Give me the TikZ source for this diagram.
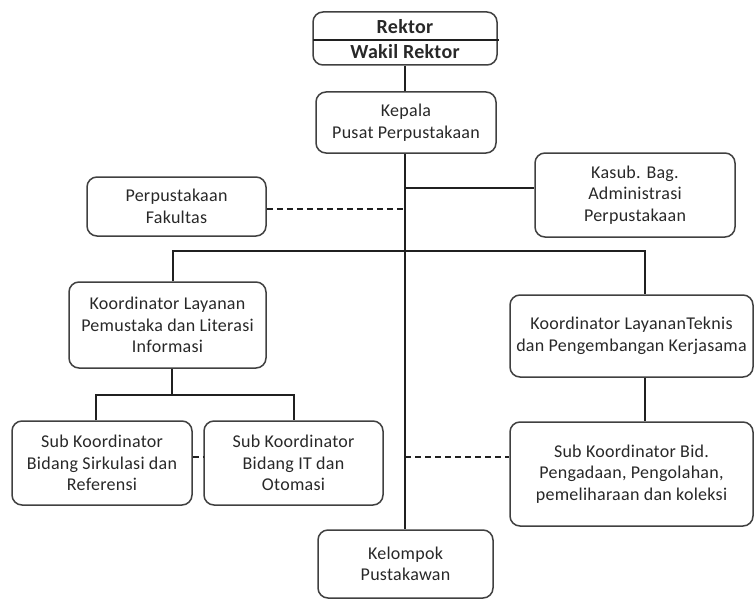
\documentclass[tikz,border=0pt]{standalone}
\usepackage{fontspec}
\setmainfont{Carlito}[LetterSpace=1.5]
\definecolor{boxc}{HTML}{404040}
\definecolor{txtc}{HTML}{282828}
\definecolor{linec}{HTML}{202020}
\tikzset{
  orgbox/.style={draw=boxc, line width=1.5pt, rounded corners=10pt, align=center, inner sep=0pt,
    text=txtc, font=\fontsize{18}{21.5}\selectfont},
  conn/.style={draw=linec, line width=1.3pt},
  dconn/.style={draw=linec, line width=1.3pt, dash pattern=on 6pt off 4pt},
  headtxt/.style={inner sep=0pt, text=txtc, font=\bfseries\fontsize{20}{22}\selectfont}
}
\begin{document}
\begin{tikzpicture}[x=1pt,y=-1pt]
\useasboundingbox (0,0) rectangle (754,599);
% Rektor box
\node[orgbox, minimum width=184pt, minimum height=53pt] (rektor) at (405,38.5) {};
\node[headtxt] (rektorT) at (405,27) {Rektor};
\node[headtxt] (wakil) at (405,52) {Wakil Rektor};
\coordinate (divL) at (313,40);
\coordinate (divR) at (499,40);
\draw[conn] (divL) -- (divR);
% boxes
\node[orgbox, minimum width=180pt, minimum height=61pt] (kepala) at (406,122.5) {Kepala\\Pusat Perpustakaan};
\node[orgbox, minimum width=179pt, minimum height=59pt] (fak) at (176.5,206.5) {Perpustakaan\\Fakultas};
\node[orgbox, minimum width=200pt, minimum height=84pt] (kasub) at (635,195) {Kasub. Bag.\\Administrasi\\Perpustakaan};
\node[orgbox, minimum width=197pt, minimum height=86pt] (koordL) at (167.5,325) {Koordinator Layanan\\Pemustaka dan Literasi\\Informasi};
\node[orgbox, minimum width=243pt, minimum height=82pt] (koordR) at (631.5,336) {Koordinator LayananTeknis\\dan Pengembangan Kerjasama};
\node[orgbox, minimum width=180pt, minimum height=84pt] (sub1) at (102,463) {Sub Koordinator\\Bidang Sirkulasi dan\\Referensi};
\node[orgbox, minimum width=179pt, minimum height=84pt] (sub2) at (293.5,463) {Sub Koordinator\\Bidang IT dan\\Otomasi};
\node[orgbox, minimum width=243pt, minimum height=104pt] (subbid) at (631.5,474) {Sub Koordinator Bid.\\Pengadaan, Pengolahan,\\pemeliharaan dan koleksi};
\node[orgbox, minimum width=175pt, minimum height=68pt] (kel) at (405.5,564) {Kelompok\\Pustakawan};
% connectors
\coordinate (jKasub) at (405,188);
\coordinate (jFak) at (405,209);
\coordinate (brL) at (173,251);
\coordinate (brR) at (645,251);
\coordinate (jSub) at (405,457);
\coordinate (kL) at (172,395);
\coordinate (sL) at (96,395);
\coordinate (sR) at (294,395);
\draw[conn] (rektor.south -| 405,0) -- (kepala.north -| 405,0);
\draw[conn] (kepala.south -| 405,0) -- (kel.north -| 405,0);
\draw[conn] (jKasub) -- (kasub.west |- jKasub);
\draw[dconn] (fak.east |- jFak) -- (jFak);
\draw[conn] (brL |- koordL.north) -- (brL) -- (brR) -- (brR |- koordR.north);
\draw[conn] (koordR.south -| brR) -- (subbid.north -| brR);
\draw[conn] (koordL.south -| kL) -- (kL);
\draw[conn] (sL |- sub1.north) -- (sL) -- (sR) -- (sR |- sub2.north);
\draw[dconn] (sub1.east |- jSub) -- (sub2.west |- jSub);
\draw[dconn] (jSub) -- (subbid.west |- jSub);
\end{tikzpicture}
\end{document}
